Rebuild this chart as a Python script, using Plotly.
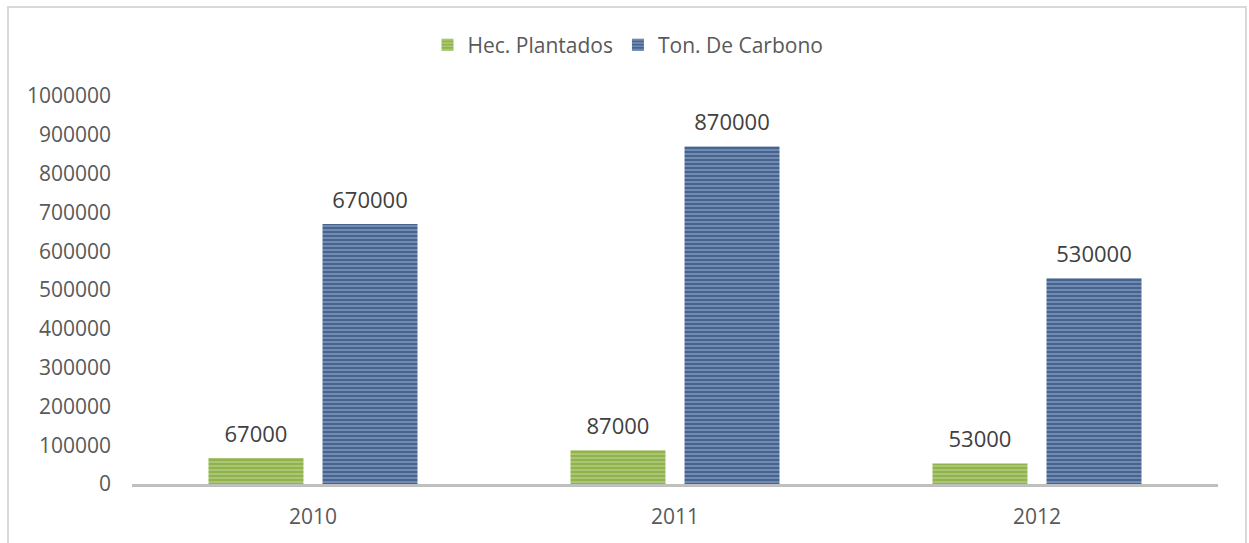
import plotly.graph_objects as go

years = ["2010", "2011", "2012"]
hectares = [67000, 87000, 53000]
carbon = [670000, 870000, 530000]
series_names = ["Hec. Plantados", "Ton. De Carbono"]
y_ticks = [0, 100000, 200000, 300000, 400000, 500000, 600000, 700000, 800000, 900000, 1000000]

W, H = 1249, 543
ML, MR, MT, MB = 132, 31, 96, 59
pw, ph = W - ML - MR, H - MT - MB

font_family = "Open Sans, Lato, sans-serif"
text_color = "#595959"

fig = go.Figure()
fig.add_trace(go.Bar(
    x=years, y=hectares, name=series_names[0], offsetgroup="a",
    marker=dict(color="#9bbb59", line=dict(width=0),
                pattern=dict(shape="-", fgcolor="#cadca2", bgcolor="#90b34d", size=4, solidity=0.45)),
    hoverinfo="skip",
))
fig.add_trace(go.Bar(
    x=years, y=carbon, name=series_names[1], offsetgroup="b",
    marker=dict(color="#4f6f9e", line=dict(width=0),
                pattern=dict(shape="-", fgcolor="#a6b9d5", bgcolor="#46648f", size=4, solidity=0.45)),
    hoverinfo="skip",
))
# data labels
for vals, grp in ((hectares, "a"), (carbon, "b")):
    fig.add_trace(go.Scatter(
        x=years, y=vals, mode="markers+text", offsetgroup=grp, showlegend=False,
        marker=dict(size=16, opacity=0),
        text=[str(v) for v in vals], textposition="top center",
        textfont=dict(family=font_family, size=22, color="#404040"),
        hoverinfo="skip", cliponaxis=False,
    ))

def px_x(p):
    return (p - ML) / pw

def px_y(p):
    return (H - MB - p) / ph

fig.add_shape(type="path", xref="paper", yref="paper",
              path=f"M {px_x(8)} {px_y(560)} L {px_x(8)} {px_y(7)} L {px_x(1246)} {px_y(7)} L {px_x(1246)} {px_y(560)}",
              line=dict(color="#d9d9d9", width=2), layer="below")

fig.update_layout(
    width=W, height=H,
    margin=dict(l=ML, r=MR, t=MT, b=MB, pad=0),
    paper_bgcolor="white", plot_bgcolor="white",
    barmode="group", bargap=0.37, bargroupgap=0.167,
    scattermode="group", scattergap=0.37,
    font=dict(family=font_family, size=21, color=text_color),
    showlegend=True,
    legend=dict(orientation="h", x=px_x(628), xanchor="center", y=px_y(45), yanchor="middle",
                font=dict(size=21, color=text_color), itemwidth=30, traceorder="normal"),
    xaxis=dict(showgrid=False, showline=True, linecolor="#bfbfbf", linewidth=3,
               ticks="", ticklabelstandoff=12, zeroline=False),
    yaxis=dict(range=[0, 1000000], tickvals=y_ticks, ticktext=[str(v) for v in y_ticks],
               showgrid=False, showline=False, zeroline=False, ticks="",
               ticklabelstandoff=20),
)

fig.write_html("out.html")
